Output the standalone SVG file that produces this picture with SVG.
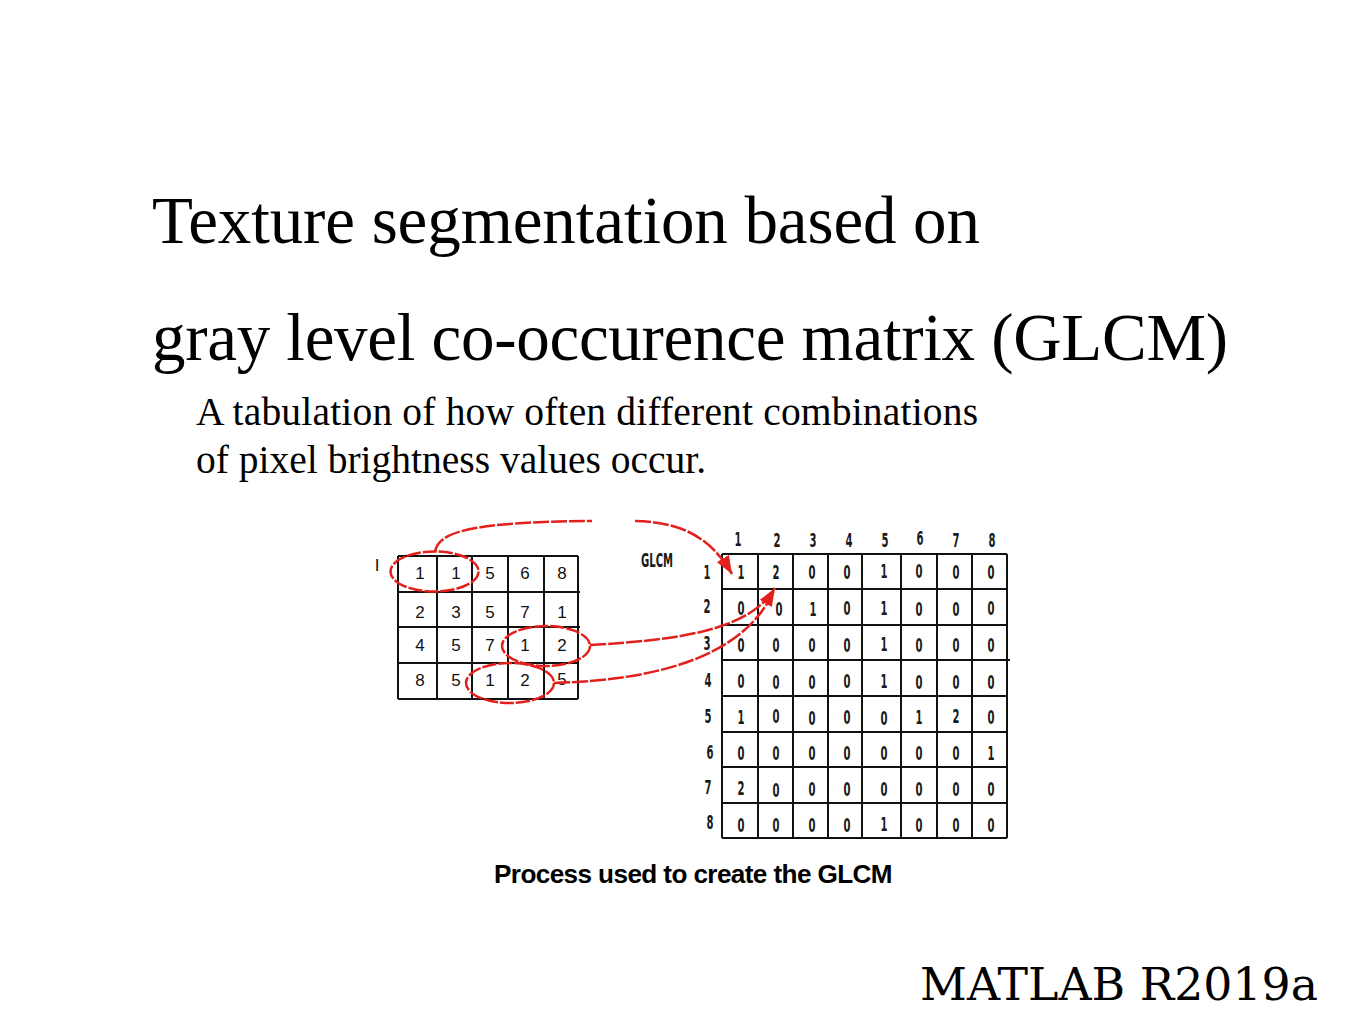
<svg xmlns="http://www.w3.org/2000/svg" width="1365" height="1024" viewBox="0 0 1365 1024">
<defs>
<style>
.title{font-family:"Liberation Serif","Times New Roman",serif;font-size:67px;fill:#000}
.sub{font-family:"Liberation Serif","Times New Roman",serif;font-size:39.5px;fill:#000}
.cap{font-family:"Liberation Sans",Arial,sans-serif;font-size:26px;font-weight:bold;letter-spacing:-0.6px;fill:#000}
.ver{font-family:"DejaVu Serif",serif;font-size:45px;fill:#000}
.grid{fill:none;stroke:#111;stroke-width:2}
.ld{font-family:"Liberation Sans",Arial,sans-serif;font-size:17px;fill:#111;text-anchor:middle}
.rd{font-family:"DejaVu Sans",sans-serif;font-size:20px;font-weight:bold;fill:#1a1a1a;text-anchor:middle}
.red{fill:none;stroke:#e3201b;stroke-width:2.5;stroke-dasharray:16 2}
.ell{fill:none;stroke:#e3201b;stroke-width:2.5;stroke-dasharray:14 2}
</style>
<marker id="ah" markerUnits="userSpaceOnUse" markerWidth="20" markerHeight="14" refX="18" refY="7" orient="auto">
<path d="M0,0 L18,7 L0,14 z" fill="#e3201b"/>
</marker>
</defs>
<rect width="1365" height="1024" fill="#fff"/>

<g id="title">
<text class="title" x="152" y="243" textLength="828">Texture segmentation based on</text>
<text class="title" x="152" y="360" textLength="1076">gray level co-occurence matrix (GLCM)</text>
</g>
<g id="subtitle">
<text class="sub" x="196" y="425" textLength="782">A tabulation of how often different combinations</text>
<text class="sub" x="196" y="473">of pixel brightness values occur.</text>
</g>

<g id="image-matrix">
<text class="ld" x="377" y="571">I</text>
<path class="grid" d="M398,556 H578 M398,592 H580 M398,627 H580 M398,663 H578 M398,699 H578 M398,556 V699 M437,556 V699 M472,556 V699 M508,556 V699 M544,556 V699 M578,556 V699"/>
<text class="ld" x="420" y="579">1</text><text class="ld" x="456" y="579">1</text><text class="ld" x="490" y="579">5</text><text class="ld" x="525" y="579">6</text><text class="ld" x="562" y="579">8</text>
<text class="ld" x="420" y="618">2</text><text class="ld" x="456" y="618">3</text><text class="ld" x="490" y="618">5</text><text class="ld" x="525" y="618">7</text><text class="ld" x="562" y="618">1</text>
<text class="ld" x="420" y="651">4</text><text class="ld" x="456" y="651">5</text><text class="ld" x="490" y="651">7</text><text class="ld" x="525" y="651">1</text><text class="ld" x="562" y="651">2</text>
<text class="ld" x="420" y="686">8</text><text class="ld" x="456" y="686">5</text><text class="ld" x="490" y="686">1</text><text class="ld" x="525" y="686">2</text><text class="ld" x="562" y="685">5</text>
</g>

<g id="glcm-label">
<text class="rd" x="657" y="567" font-size="16" textLength="32" lengthAdjust="spacingAndGlyphs">GLCM</text>
</g>

<g id="glcm-matrix">
<path class="grid" d="M722,554 H1007 M722,589 H1007 M722,625 H1007 M722,660 H1010 M722,696 H1007 M722,732 H1007 M722,767 H1007 M722,803 H1007 M722,838 H1007 M722,554 V838 M758,554 V838 M793,554 V838 M828,554 V838 M862,554 V838 M901,554 V838 M937,554 V838 M972,554 V838 M1007,554 V838"/>
<g>
<text class="rd" x="738" y="546" textLength="7" lengthAdjust="spacingAndGlyphs">1</text>
<text class="rd" x="777" y="547" textLength="7" lengthAdjust="spacingAndGlyphs">2</text>
<text class="rd" x="813" y="547" textLength="7" lengthAdjust="spacingAndGlyphs">3</text>
<text class="rd" x="849" y="547" textLength="7" lengthAdjust="spacingAndGlyphs">4</text>
<text class="rd" x="885" y="547" textLength="7" lengthAdjust="spacingAndGlyphs">5</text>
<text class="rd" x="920" y="545" textLength="7" lengthAdjust="spacingAndGlyphs">6</text>
<text class="rd" x="956" y="547" textLength="7" lengthAdjust="spacingAndGlyphs">7</text>
<text class="rd" x="992" y="547" textLength="7" lengthAdjust="spacingAndGlyphs">8</text>
</g>
<g>
<text class="rd" x="707" y="579" textLength="7" lengthAdjust="spacingAndGlyphs">1</text>
<text class="rd" x="707" y="613" textLength="7" lengthAdjust="spacingAndGlyphs">2</text>
<text class="rd" x="707" y="650" textLength="7" lengthAdjust="spacingAndGlyphs">3</text>
<text class="rd" x="708" y="687" textLength="7" lengthAdjust="spacingAndGlyphs">4</text>
<text class="rd" x="708" y="723" textLength="7" lengthAdjust="spacingAndGlyphs">5</text>
<text class="rd" x="710" y="759" textLength="7" lengthAdjust="spacingAndGlyphs">6</text>
<text class="rd" x="708" y="794" textLength="7" lengthAdjust="spacingAndGlyphs">7</text>
<text class="rd" x="710" y="829" textLength="7" lengthAdjust="spacingAndGlyphs">8</text>
</g>
<g>
<text class="rd" x="741" y="579" textLength="7" lengthAdjust="spacingAndGlyphs">1</text><text class="rd" x="776" y="579" textLength="7" lengthAdjust="spacingAndGlyphs">2</text><text class="rd" x="812" y="579" textLength="7" lengthAdjust="spacingAndGlyphs">0</text><text class="rd" x="847" y="579" textLength="7" lengthAdjust="spacingAndGlyphs">0</text><text class="rd" x="884" y="578" textLength="7" lengthAdjust="spacingAndGlyphs">1</text><text class="rd" x="919" y="578" textLength="7" lengthAdjust="spacingAndGlyphs">0</text><text class="rd" x="956" y="579" textLength="7" lengthAdjust="spacingAndGlyphs">0</text><text class="rd" x="991" y="579" textLength="7" lengthAdjust="spacingAndGlyphs">0</text>
<text class="rd" x="741" y="615" textLength="7" lengthAdjust="spacingAndGlyphs">0</text><text class="rd" x="779" y="616" textLength="7" lengthAdjust="spacingAndGlyphs">0</text><text class="rd" x="813" y="616" textLength="7" lengthAdjust="spacingAndGlyphs">1</text><text class="rd" x="847" y="615" textLength="7" lengthAdjust="spacingAndGlyphs">0</text><text class="rd" x="884" y="615" textLength="7" lengthAdjust="spacingAndGlyphs">1</text><text class="rd" x="919" y="616" textLength="7" lengthAdjust="spacingAndGlyphs">0</text><text class="rd" x="956" y="616" textLength="7" lengthAdjust="spacingAndGlyphs">0</text><text class="rd" x="991" y="615" textLength="7" lengthAdjust="spacingAndGlyphs">0</text>
<text class="rd" x="741" y="652" textLength="7" lengthAdjust="spacingAndGlyphs">0</text><text class="rd" x="776" y="652" textLength="7" lengthAdjust="spacingAndGlyphs">0</text><text class="rd" x="812" y="652" textLength="7" lengthAdjust="spacingAndGlyphs">0</text><text class="rd" x="847" y="652" textLength="7" lengthAdjust="spacingAndGlyphs">0</text><text class="rd" x="884" y="651" textLength="7" lengthAdjust="spacingAndGlyphs">1</text><text class="rd" x="919" y="652" textLength="7" lengthAdjust="spacingAndGlyphs">0</text><text class="rd" x="956" y="652" textLength="7" lengthAdjust="spacingAndGlyphs">0</text><text class="rd" x="991" y="652" textLength="7" lengthAdjust="spacingAndGlyphs">0</text>
<text class="rd" x="741" y="688" textLength="7" lengthAdjust="spacingAndGlyphs">0</text><text class="rd" x="776" y="689" textLength="7" lengthAdjust="spacingAndGlyphs">0</text><text class="rd" x="812" y="689" textLength="7" lengthAdjust="spacingAndGlyphs">0</text><text class="rd" x="847" y="688" textLength="7" lengthAdjust="spacingAndGlyphs">0</text><text class="rd" x="884" y="688" textLength="7" lengthAdjust="spacingAndGlyphs">1</text><text class="rd" x="919" y="689" textLength="7" lengthAdjust="spacingAndGlyphs">0</text><text class="rd" x="956" y="689" textLength="7" lengthAdjust="spacingAndGlyphs">0</text><text class="rd" x="991" y="689" textLength="7" lengthAdjust="spacingAndGlyphs">0</text>
<text class="rd" x="741" y="724" textLength="7" lengthAdjust="spacingAndGlyphs">1</text><text class="rd" x="776" y="723" textLength="7" lengthAdjust="spacingAndGlyphs">0</text><text class="rd" x="812" y="725" textLength="7" lengthAdjust="spacingAndGlyphs">0</text><text class="rd" x="847" y="724" textLength="7" lengthAdjust="spacingAndGlyphs">0</text><text class="rd" x="884" y="725" textLength="7" lengthAdjust="spacingAndGlyphs">0</text><text class="rd" x="919" y="724" textLength="7" lengthAdjust="spacingAndGlyphs">1</text><text class="rd" x="956" y="723" textLength="7" lengthAdjust="spacingAndGlyphs">2</text><text class="rd" x="991" y="724" textLength="7" lengthAdjust="spacingAndGlyphs">0</text>
<text class="rd" x="741" y="760" textLength="7" lengthAdjust="spacingAndGlyphs">0</text><text class="rd" x="776" y="760" textLength="7" lengthAdjust="spacingAndGlyphs">0</text><text class="rd" x="812" y="760" textLength="7" lengthAdjust="spacingAndGlyphs">0</text><text class="rd" x="847" y="760" textLength="7" lengthAdjust="spacingAndGlyphs">0</text><text class="rd" x="884" y="760" textLength="7" lengthAdjust="spacingAndGlyphs">0</text><text class="rd" x="919" y="760" textLength="7" lengthAdjust="spacingAndGlyphs">0</text><text class="rd" x="956" y="760" textLength="7" lengthAdjust="spacingAndGlyphs">0</text><text class="rd" x="991" y="760" textLength="7" lengthAdjust="spacingAndGlyphs">1</text>
<text class="rd" x="741" y="795" textLength="7" lengthAdjust="spacingAndGlyphs">2</text><text class="rd" x="776" y="797" textLength="7" lengthAdjust="spacingAndGlyphs">0</text><text class="rd" x="812" y="796" textLength="7" lengthAdjust="spacingAndGlyphs">0</text><text class="rd" x="847" y="796" textLength="7" lengthAdjust="spacingAndGlyphs">0</text><text class="rd" x="884" y="796" textLength="7" lengthAdjust="spacingAndGlyphs">0</text><text class="rd" x="919" y="796" textLength="7" lengthAdjust="spacingAndGlyphs">0</text><text class="rd" x="956" y="796" textLength="7" lengthAdjust="spacingAndGlyphs">0</text><text class="rd" x="991" y="796" textLength="7" lengthAdjust="spacingAndGlyphs">0</text>
<text class="rd" x="741" y="832" textLength="7" lengthAdjust="spacingAndGlyphs">0</text><text class="rd" x="776" y="832" textLength="7" lengthAdjust="spacingAndGlyphs">0</text><text class="rd" x="812" y="832" textLength="7" lengthAdjust="spacingAndGlyphs">0</text><text class="rd" x="847" y="832" textLength="7" lengthAdjust="spacingAndGlyphs">0</text><text class="rd" x="884" y="831" textLength="7" lengthAdjust="spacingAndGlyphs">1</text><text class="rd" x="919" y="832" textLength="7" lengthAdjust="spacingAndGlyphs">0</text><text class="rd" x="956" y="832" textLength="7" lengthAdjust="spacingAndGlyphs">0</text><text class="rd" x="991" y="832" textLength="7" lengthAdjust="spacingAndGlyphs">0</text>
</g>
</g>

<g id="pair-highlights">
<ellipse class="ell" cx="434.5" cy="571.5" rx="44" ry="20"/>
<ellipse class="ell" cx="546" cy="646" rx="44" ry="20"/>
<ellipse class="ell" cx="510" cy="683" rx="44" ry="20"/>
</g>

<g id="connectors">
<path class="red" d="M435,552 C438,532 470,522 592,521 M635,521 C685,522 712,540 732,574" marker-end="url(#ah)"/>
<path class="red" d="M590,645 C680,640 750,630 775,588" marker-end="url(#ah)"/>
<path class="red" d="M554,683 C650,680 745,660 775,588"/>
</g>

<g id="caption">
<text class="cap" x="494" y="883" textLength="398" lengthAdjust="spacingAndGlyphs">Process used to create the GLCM</text>
</g>
<g id="version">
<text class="ver" x="920" y="1000" textLength="398" lengthAdjust="spacingAndGlyphs">MATLAB R2019a</text>
</g>
</svg>
